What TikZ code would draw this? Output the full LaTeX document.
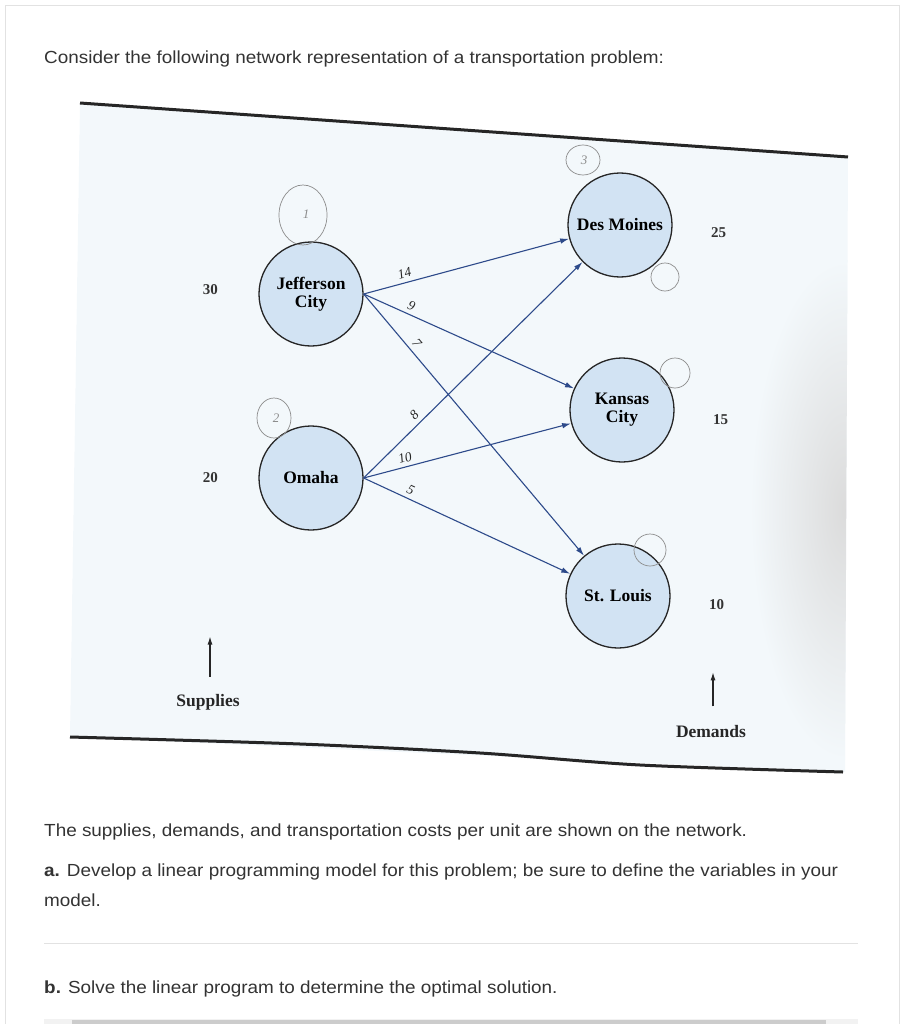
\documentclass[tikz,border=0pt]{standalone}
\usepackage{fontspec}
\setmainfont{Liberation Serif}
\newfontfamily\webfont{Liberation Sans}
\usetikzlibrary{arrows.meta, positioning, calc}

\definecolor{nodefill}{HTML}{D2E3F3}
\definecolor{edgeblue}{HTML}{2D4A8A}
\definecolor{webtext}{HTML}{333333}
\definecolor{photobg}{HTML}{F3F8FB}
\definecolor{pencil}{HTML}{8C8C8C}
\definecolor{framegray}{HTML}{E2E2E2}

\begin{document}
\begin{tikzpicture}[x=1pt, y=-1pt,
  city/.style={circle, draw=black!85, line width=1.3pt, fill=nodefill, minimum size=104pt, inner sep=0pt, align=center, font=\bfseries\fontsize{17.5}{18}\selectfont},
  qty/.style={font=\bfseries\fontsize{15}{16}\selectfont, text=black!80},
  cost/.style={pos=0.21, above, sloped, inner sep=4pt, font=\itshape\fontsize{13.5}{14}\selectfont, text=black!85},
  route/.style={-{Latex[length=9pt, width=5.5pt]}, edgeblue, line width=1.1pt},
  pointer/.style={-{Latex[length=8pt, width=5pt]}, black!85, line width=1.1pt},
  caption/.style={font=\bfseries\fontsize{17.5}{18}\selectfont, text=black!85},
  para/.style={anchor=base west, inner sep=0pt, xscale=1.08, font=\webfont\fontsize{17.5}{19}\selectfont, text=webtext},
  hand/.style={draw=pencil, line width=0.7pt},
  handnum/.style={text=pencil, font=\itshape\fontsize{13}{13}\selectfont}
]
\useasboundingbox (0,0) rectangle (906,1024);
\draw[framegray] (5,1024) -- (5,5) -- (899,5) -- (899,1024);
\node[para] (intro) at (44,64) {Consider the following network representation of a transportation problem:};

% photographed figure
\fill[photobg] (80,103) -- (848,157) -- (845,772) -- (70,737) -- cycle;
\begin{scope}
  \clip (80,103) -- (848,157) -- (845,772) -- (70,737) -- cycle;
  \shade[inner color=gray!28, outer color=photobg] (845,510) ellipse [x radius=95, y radius=250];
\end{scope}
\draw[line width=3pt, black!85] plot[smooth] coordinates {(80,103) (450,129) (848,157)};
\draw[line width=3pt, black!85] plot[smooth] coordinates {(70,737) (300,744) (480,753) (640,765) (843,772)};

\node[city] (jc) at (311,294) {Jefferson\\City};
\node[city] (om) at (311,478) {Omaha};
\node[city] (dm) at (620,225) {Des Moines};
\node[city] (kc) at (622,410) {Kansas\\City};
\node[city] (sl) at (618,596) {St. Louis};

\draw[route] (jc.east) -- node[cost] {14} (dm);
\draw[route] (jc.east) -- node[cost] {9} (kc);
\draw[route] (jc.east) -- node[cost] {7} (sl);
\draw[route] (om.east) -- node[cost, pos=0.26] {8} (dm);
\draw[route] (om.east) -- node[cost] {10} (kc);
\draw[route] (om.east) -- node[cost] {5} (sl);

\node[qty, left=37pt of jc, yshift=4pt] (sjc) {30};
\node[qty, left=37pt of om] (som) {20};
\node[qty, right=35pt of dm, yshift=-8pt] (ddm) {25};
\node[qty, right=35pt of kc, yshift=-10pt] (dkc) {15};
\node[qty, right=35pt of sl, yshift=-9pt] (dsl) {10};

\node[caption] (sup) at (208,702) {Supplies};
\node[caption] (dem) at (711,732) {Demands};
\draw[pointer, shorten <=14pt] ([xshift=2pt]sup.north) -- ++(0,-54);
\draw[pointer, shorten <=16pt] ([xshift=2pt]dem.north) -- ++(0,-50);

% pencil marks
\draw[hand] (303,215) ellipse [x radius=24, y radius=30];
\node[handnum] (h1) at (306,214) {1};
\draw[hand] (274,418) ellipse [x radius=17, y radius=20];
\node[handnum] (h2) at (276,418) {2};
\draw[hand] (583,160) ellipse [x radius=17, y radius=15];
\node[handnum] (h3) at (584,160) {3};
\draw[hand] (665,277) circle [radius=14];
\draw[hand] (675,373) circle [radius=15];
\draw[hand] (650,550) circle [radius=16];

% question text
\node[para] (given) at (44,836) {The supplies, demands, and transportation costs per unit are shown on the network.};
\node[para] (parta) at (44,876) {\textbf{a.} Develop a linear programming model for this problem; be sure to define the variables in your};
\node[para] (partb) at (44,906) {model.};
\draw[framegray] (44,943) -- (858,943);
\node[para] (partc) at (44,993) {\textbf{b.} Solve the linear program to determine the optimal solution.};
\fill[gray!10] (44,1019) rectangle (858,1024);
\fill[gray!40] (72,1020) rectangle (826,1024);
\end{tikzpicture}
\end{document}
